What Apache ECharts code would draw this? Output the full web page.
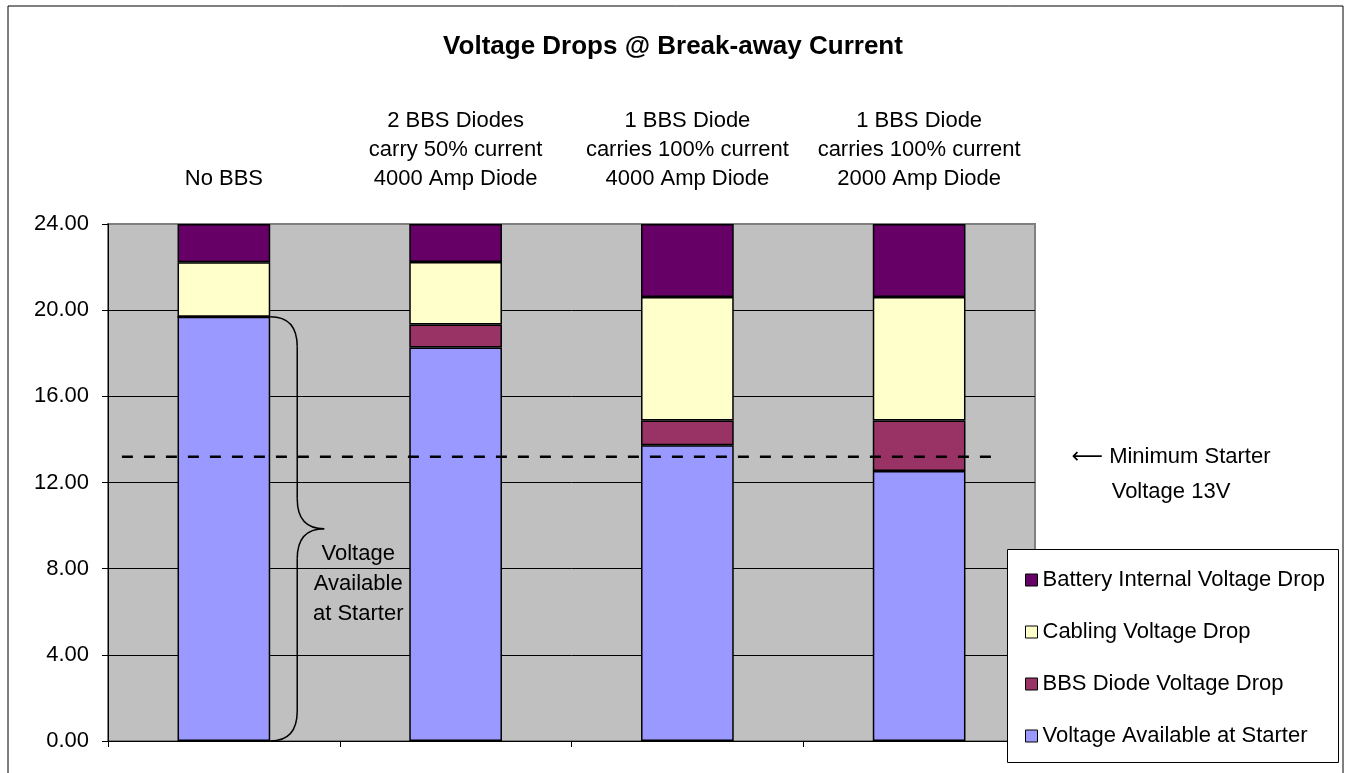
<!DOCTYPE html>
<html>
<head>
<meta charset="utf-8">
<script src="https://cdn.jsdelivr.net/npm/echarts@6/dist/echarts.min.js"></script>
<style>
  html, body { margin: 0; padding: 0; background: #fff; }
  #main { width: 1346px; height: 773px; }
</style>
</head>
<body>
<div id="main"></div>
<script>
// data
var categories = [
  'No BBS',
  '2 BBS Diodes\ncarry 50% current\n4000 Amp Diode',
  '1 BBS Diode\ncarries 100% current\n4000 Amp Diode',
  '1 BBS Diode\ncarries 100% current\n2000 Amp Diode'
];
var available = [19.7, 18.27, 13.73, 12.53];
var diode = [0, 1.06, 1.15, 2.35];
var cabling = [2.53, 2.91, 5.73, 5.73];
var battery = [1.77, 1.76, 3.39, 3.39];
var minVoltage = 13.2;
var thresholdX = [0.06, 3.82];
var yTicks = [0, 4, 8, 12, 16, 20, 24];

var font = 'Liberation Sans, Arial, sans-serif';
var chart = echarts.init(document.getElementById('main'));

function barSeries(name, data, color) {
  return {
    name: name,
    type: 'bar',
    stack: 'v',
    xAxisIndex: 0,
    yAxisIndex: 0,
    barWidth: '40%',
    data: data,
    itemStyle: { color: color, borderColor: '#000', borderWidth: 1.5 },
    emphasis: { disabled: true }
  };
}

var option = {
  animation: false,
  title: {
    text: 'Voltage Drops @ Break-away Current',
    left: 668,
    textAlign: 'center',
    top: 29,
    textStyle: { fontFamily: font, fontSize: 26, fontWeight: 'bold', color: '#000' }
  },
  grid: {
    left: 108, top: 224, right: 311, bottom: 32,
    show: true, backgroundColor: '#C0C0C0', borderColor: '#808080', borderWidth: 2
  },
  legend: {
    orient: 'vertical',
    left: 1020,
    top: 564,
    itemWidth: 12,
    itemHeight: 12,
    itemGap: 30,
    icon: 'rect',
    itemStyle: { borderColor: '#000', borderWidth: 1 },
    textStyle: { fontFamily: font, fontSize: 22, color: '#000', lineHeight: 22 },
    data: ['Battery Internal Voltage Drop', 'Cabling Voltage Drop',
           'BBS Diode Voltage Drop', 'Voltage Available at Starter'],
    z: 10
  },
  xAxis: [{
    type: 'category',
    data: categories,
    position: 'bottom',
    axisLine: { lineStyle: { color: '#000', width: 1 } },
    axisTick: { show: true, length: 6, lineStyle: { color: '#000' } },
    axisLabel: { show: false }
  }, {
    type: 'category',
    data: categories,
    position: 'top',
    axisLine: { show: false },
    axisTick: { show: false },
    axisLabel: {
      interval: 0, margin: 31, fontFamily: font, fontSize: 22,
      lineHeight: 29, color: '#000', align: 'center'
    }
  }, {
    type: 'value',
    min: 0, max: 4,
    show: false
  }],
  yAxis: {
    type: 'value',
    min: yTicks[0],
    max: yTicks[yTicks.length - 1],
    interval: 4,
    axisLine: { show: true, lineStyle: { color: '#000', width: 1 } },
    axisTick: { show: true, length: 6, lineStyle: { color: '#000' } },
    axisLabel: {
      margin: 19, fontFamily: font, fontSize: 22, color: '#000',
      formatter: function (v) { return v.toFixed(2); }
    },
    splitLine: { show: true, showMaxLine: false, lineStyle: { color: '#000', width: 1 } }
  },
  series: [
    barSeries('Voltage Available at Starter', available, '#9999FF'),
    barSeries('BBS Diode Voltage Drop', diode, '#993366'),
    barSeries('Cabling Voltage Drop', cabling, '#FFFFCC'),
    barSeries('Battery Internal Voltage Drop', battery, '#660066'),
    {
      name: 'Minimum',
      type: 'line',
      xAxisIndex: 2,
      yAxisIndex: 0,
      data: thresholdX.map(function (x) { return [x, minVoltage]; }),
      symbol: 'none',
      lineStyle: { color: '#000', width: 2.5, type: [11, 11] },
      z: 5,
      silent: true
    }
  ]
};
chart.setOption(option);

// brace and notes, positioned from the axes
var c0 = chart.convertToPixel({ xAxisIndex: 0, yAxisIndex: 0 }, [0, 0]);
var c1 = chart.convertToPixel({ xAxisIndex: 0, yAxisIndex: 0 }, [1, available[0]]);
var bandW = c1[0] - c0[0];
var x0 = c0[0] + bandW * 0.2;
var yB = c0[1];
var yT = c1[1];
var yM = (yT + yB) / 2;
var x1 = x0 + 27, x2 = x0 + 54, r = 30;
var yMin = chart.convertToPixel({ yAxisIndex: 0 }, minVoltage);

var braceStyle = { fill: 'none', stroke: '#000', lineWidth: 1.5 };
function curve(ax, ay, cx, cy, bx, by) {
  return {
    type: 'bezierCurve',
    shape: { x1: ax, y1: ay, cpx1: cx, cpy1: cy, x2: bx, y2: by },
    style: braceStyle, z: 6, silent: true
  };
}
function seg(ax, ay, bx, by) {
  return {
    type: 'line',
    shape: { x1: ax, y1: ay, x2: bx, y2: by },
    style: braceStyle, z: 6, silent: true
  };
}

chart.setOption({
  graphic: [{
    type: 'rect',
    shape: { x: 8, y: 6, width: 1335, height: 790 },
    style: { fill: 'none', stroke: '#000', lineWidth: 1 },
    z: 1, silent: true
  }, {
    type: 'rect',
    shape: { x: 1007.5, y: 549.5, width: 331, height: 213 },
    style: { fill: '#fff', stroke: '#000', lineWidth: 1 },
    z: 8, silent: true
  },
  curve(x0, yT, x1, yT, x1, yT + r),
  seg(x1, yT + r, x1, yM - r),
  curve(x1, yM - r, x1, yM, x2, yM),
  curve(x2, yM, x1, yM, x1, yM + r),
  seg(x1, yM + r, x1, yB - r),
  curve(x1, yB - r, x1, yB, x0, yB),
  {
    type: 'text',
    x: x2 + 34,
    y: yM + 10,
    style: {
      text: 'Voltage\nAvailable\nat Starter',
      font: '22px ' + font,
      fill: '#000',
      align: 'center',
      verticalAlign: 'top',
      lineHeight: 30
    },
    z: 6, silent: true
  }, {
    type: 'text',
    x: 1171,
    y: yMin - 17,
    style: {
      text: '{a|\u27F5} Minimum Starter\nVoltage 13V',
      font: '22px ' + font,
      fill: '#000',
      align: 'center',
      verticalAlign: 'top',
      lineHeight: 35,
      rich: {
        a: { fontFamily: 'DejaVu Sans', fontSize: 22, lineHeight: 35, fill: '#000' }
      }
    },
    z: 6, silent: true
  }]
});
</script>
</body>
</html>
